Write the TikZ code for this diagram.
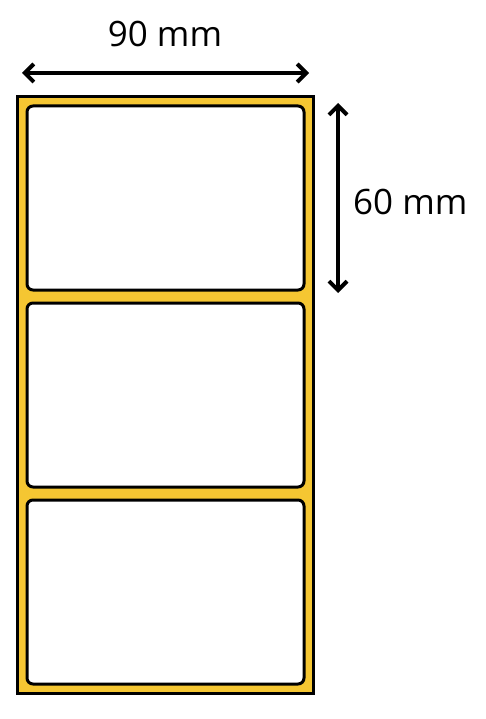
\documentclass[tikz,border=0pt]{standalone}
\usepackage{fontspec}
\setmainfont{Open Sans}
\usetikzlibrary{arrows.meta}
\definecolor{labelyellow}{RGB}{245,198,50}
\begin{document}
\begin{tikzpicture}[x=1pt,y=-1pt,
  liner/.style={draw=black,line width=3pt,fill=labelyellow},
  sticker/.style={draw=black,line width=3pt,fill=white,rounded corners=6pt},
  dimarrow/.style={line width=4pt,{Straight Barb[length=9pt,width=18pt,line width=4pt]}-{Straight Barb[length=9pt,width=18pt,line width=4pt]}},
  dimtext/.style={font=\fontsize{35}{38}\selectfont,inner sep=0pt}]
\useasboundingbox (0,0) rectangle (486,719);
\draw[liner] (17,97) rectangle (313,693);
\draw[sticker] (27,106) rectangle (304,290);
\draw[sticker] (27,303) rectangle (304,487);
\draw[sticker] (27,500) rectangle (304,684);
\coordinate (hl) at (22,73);
\coordinate (hr) at (309,73);
\coordinate (vt) at (338,103);
\coordinate (vb) at (338,293);
\draw[dimarrow] (hl) -- (hr);
\draw[dimarrow] (vt) -- (vb);
\node[dimtext] (w) at (165,34) {90 mm};
\node[dimtext,anchor=west] (h) at (353,202) {60 mm};
\end{tikzpicture}
\end{document}
